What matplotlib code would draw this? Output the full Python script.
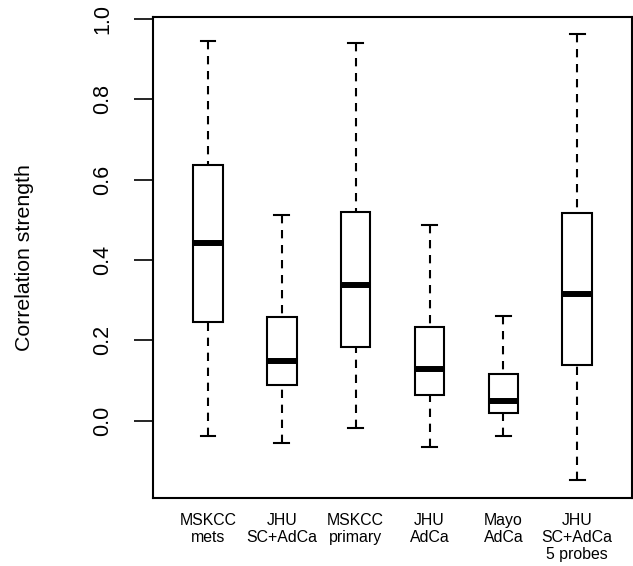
import matplotlib
matplotlib.use("Agg")
import matplotlib.pyplot as plt

plt.rcParams['font.family'] = ['Liberation Sans', 'DejaVu Sans']

# group labels and five-number summaries
labels = ["MSKCC\nmets", "JHU\nSC+AdCa", "MSKCC\nprimary", "JHU\nAdCa", "Mayo\nAdCa", "JHU\nSC+AdCa\n5 probes"]
whislo = [-0.037, -0.056, -0.017, -0.065, -0.038, -0.148]
q1 = [0.245, 0.089, 0.183, 0.065, 0.018, 0.138]
med = [0.442, 0.149, 0.338, 0.129, 0.050, 0.316]
q3 = [0.637, 0.258, 0.519, 0.234, 0.116, 0.517]
whishi = [0.946, 0.512, 0.940, 0.487, 0.261, 0.962]
yticks = [0.0, 0.2, 0.4, 0.6, 0.8, 1.0]

stats = []
for i in range(len(labels)):
    stats.append({'whislo': whislo[i], 'q1': q1[i], 'med': med[i], 'q3': q3[i],
                  'whishi': whishi[i], 'label': labels[i], 'fliers': []})

fig = plt.figure(figsize=(6.33, 5.66), dpi=100)
ax = fig.add_axes([0.2422, 0.1201, 0.7560, 0.8504])

pos = list(range(1, len(labels) + 1))
bp = ax.bxp(stats, positions=pos, widths=0.4, capwidths=0.2, patch_artist=True,
            boxprops=dict(facecolor='white', edgecolor='black', linewidth=1.5),
            medianprops=dict(color='black', linewidth=4.3, solid_capstyle='butt'),
            whiskerprops=dict(color='black', linewidth=1.5, linestyle=(0, (4.0, 3.2))),
            capprops=dict(color='black', linewidth=1.5))

# R draws whiskers from the cap toward the box, so the dashes start at the cap
for w in bp['whiskers']:
    x, y = w.get_data()
    w.set_data(list(x)[::-1], list(y)[::-1])

ax.set_xlim(0.26, 6.74)
ax.set_ylim(-0.1925, 1.006)

ax.set_yticks(yticks)
ax.set_yticklabels(["%.1f" % v for v in yticks], rotation=90, va='center', fontsize=15.5)
ax.tick_params(axis='y', length=14, width=1.2, pad=15)

ax.set_xticks(pos)
ax.set_xticklabels(labels, fontsize=11.4, linespacing=1.15, va='top')
ax.tick_params(axis='x', length=0, pad=11)

for s in ax.spines.values():
    s.set_linewidth(1.5)

ax.set_ylabel("Correlation strength", fontsize=15.3)
ax.yaxis.set_label_coords(-0.249, 0.5)

fig.savefig("out.png", dpi=100)
